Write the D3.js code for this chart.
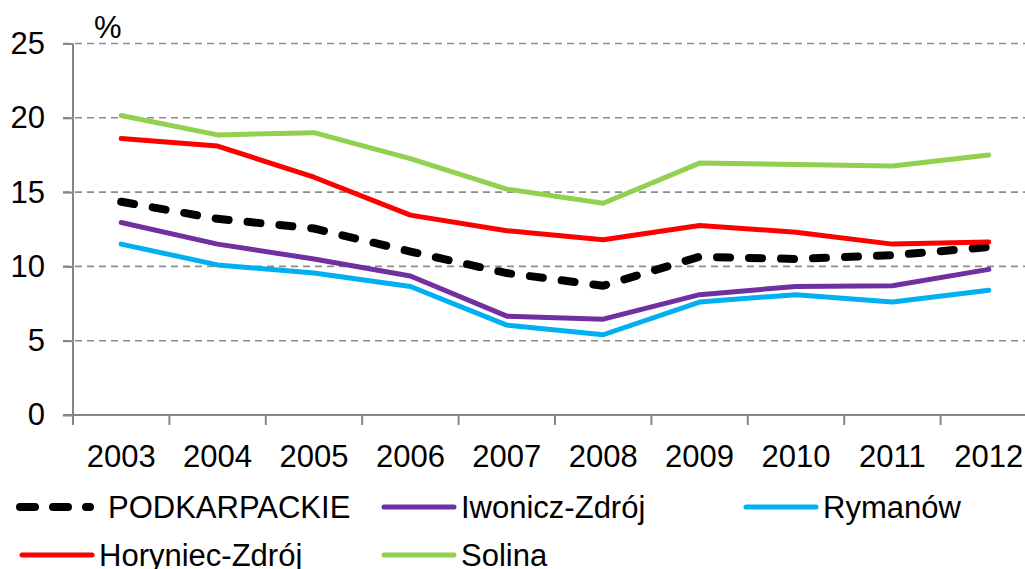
<!DOCTYPE html>
<html>
<head>
<meta charset="utf-8">
<script src="https://cdn.jsdelivr.net/npm/d3@7"></script>
<style>
  body { margin: 0; background: #fff; }
  svg { display: block; font-family: "Liberation Sans", Arial, sans-serif; }
</style>
</head>
<body>
<div id="chart"></div>
<script>
const years = ["2003", "2004", "2005", "2006", "2007", "2008", "2009", "2010", "2011", "2012"];
const yTicks = [0, 5, 10, 15, 20, 25];

const podkarpackie = [14.35, 13.2, 12.55, 11.0, 9.55, 8.7, 10.65, 10.5, 10.75, 11.3];
const iwonicz = [12.95, 11.5, 10.5, 9.35, 6.65, 6.45, 8.1, 8.65, 8.7, 9.8];
const rymanow = [11.5, 10.1, 9.55, 8.65, 6.05, 5.4, 7.6, 8.1, 7.6, 8.4];
const horyniec = [18.6, 18.1, 16.0, 13.45, 12.4, 11.8, 12.75, 12.3, 11.5, 11.65];
const solina = [20.15, 18.85, 19.0, 17.25, 15.2, 14.25, 16.95, 16.85, 16.75, 17.5];

const series = [
  { name: "PODKARPACKIE", values: podkarpackie, color: "#000000", width: 8, dash: "13,19" },
  { name: "Iwonicz-Zdrój", values: iwonicz, color: "#7030A0", width: 5, dash: null },
  { name: "Rymanów", values: rymanow, color: "#00B0F0", width: 5, dash: null },
  { name: "Horyniec-Zdrój", values: horyniec, color: "#FF0000", width: 5, dash: null },
  { name: "Solina", values: solina, color: "#92D050", width: 5, dash: null }
];

const width = 1025, height = 569;
const plotLeft = 73, plotRight = 1037, plotTop = 43.5, plotBottom = 415;
const fontSize = 31;

const svg = d3.select("#chart").append("svg")
  .attr("width", width)
  .attr("height", height);

const x = d3.scaleBand().domain(years).range([plotLeft, plotRight]).padding(0);
const y = d3.scaleLinear().domain([0, 25]).range([plotBottom, plotTop]);
const cx = (d) => x(d) + x.bandwidth() / 2;

// gridlines
svg.append("g")
  .selectAll("line")
  .data(yTicks.filter((t) => t > 0))
  .join("line")
  .attr("x1", plotLeft - 10)
  .attr("x2", plotRight)
  .attr("y1", (d) => y(d))
  .attr("y2", (d) => y(d))
  .attr("stroke", "#8c8c8c")
  .attr("stroke-width", 1.6)
  .attr("stroke-dasharray", "7,5");

// y axis
const yAxis = svg.append("g")
  .attr("transform", `translate(${plotLeft},0)`)
  .call(d3.axisLeft(y).tickValues(yTicks).tickSize(10).tickPadding(18));
yAxis.select(".domain").attr("stroke", "#868686").attr("stroke-width", 2).attr("d", `M0,${plotTop}V${plotBottom}`);
yAxis.selectAll(".tick line").attr("stroke", "#868686").attr("stroke-width", 2);
yAxis.selectAll(".tick text")
  .attr("font-size", fontSize)
  .attr("font-family", "Liberation Sans, Arial, sans-serif")
  .attr("fill", "#000");

// x axis
const xAxis = svg.append("g")
  .attr("transform", `translate(0,${plotBottom})`)
  .call(d3.axisBottom(x).tickSize(0).tickPadding(30));
xAxis.select(".domain").attr("stroke", "#868686").attr("stroke-width", 2).attr("d", `M${plotLeft - 10},0H${plotRight}`);
xAxis.selectAll(".tick text")
  .attr("font-size", fontSize)
  .attr("font-family", "Liberation Sans, Arial, sans-serif")
  .attr("fill", "#000");

// category boundary ticks
svg.append("g")
  .selectAll("line")
  .data(years.concat(["end"]))
  .join("line")
  .attr("x1", (d, i) => plotLeft + i * x.bandwidth())
  .attr("x2", (d, i) => plotLeft + i * x.bandwidth())
  .attr("y1", plotBottom)
  .attr("y2", plotBottom + 10)
  .attr("stroke", "#868686")
  .attr("stroke-width", 2);

// unit label
svg.append("text")
  .attr("x", 94)
  .attr("y", 38)
  .attr("font-size", fontSize)
  .text("%");

// lines
const line = d3.line()
  .x((d, i) => cx(years[i]))
  .y((d) => y(d));

svg.append("g")
  .selectAll("path")
  .data(series)
  .join("path")
  .attr("d", (s) => line(s.values))
  .attr("fill", "none")
  .attr("stroke", (s) => s.color)
  .attr("stroke-width", (s) => s.width)
  .attr("stroke-dasharray", (s) => s.dash)
  .attr("stroke-linecap", "round")
  .attr("stroke-linejoin", "round");

// legend
const legendPos = [
  { x: 20, y: 507 },
  { x: 384, y: 507 },
  { x: 746, y: 507 },
  { x: 22, y: 555 },
  { x: 384, y: 555 }
];

const legend = svg.append("g")
  .selectAll("g")
  .data(series)
  .join("g")
  .attr("transform", (s, i) => `translate(${legendPos[i].x},${legendPos[i].y})`);

legend.append("line")
  .attr("x1", 0)
  .attr("x2", 70)
  .attr("stroke", (s) => s.color)
  .attr("stroke-width", (s) => s.width)
  .attr("stroke-dasharray", (s) => s.dash ? "15,18" : null)
  .attr("stroke-linecap", "round");

legend.append("text")
  .attr("x", (s) => s.dash ? 88 : 77)
  .attr("y", 11)
  .attr("font-size", fontSize)
  .attr("fill", "#000")
  .text((s) => s.name);
</script>
</body>
</html>
